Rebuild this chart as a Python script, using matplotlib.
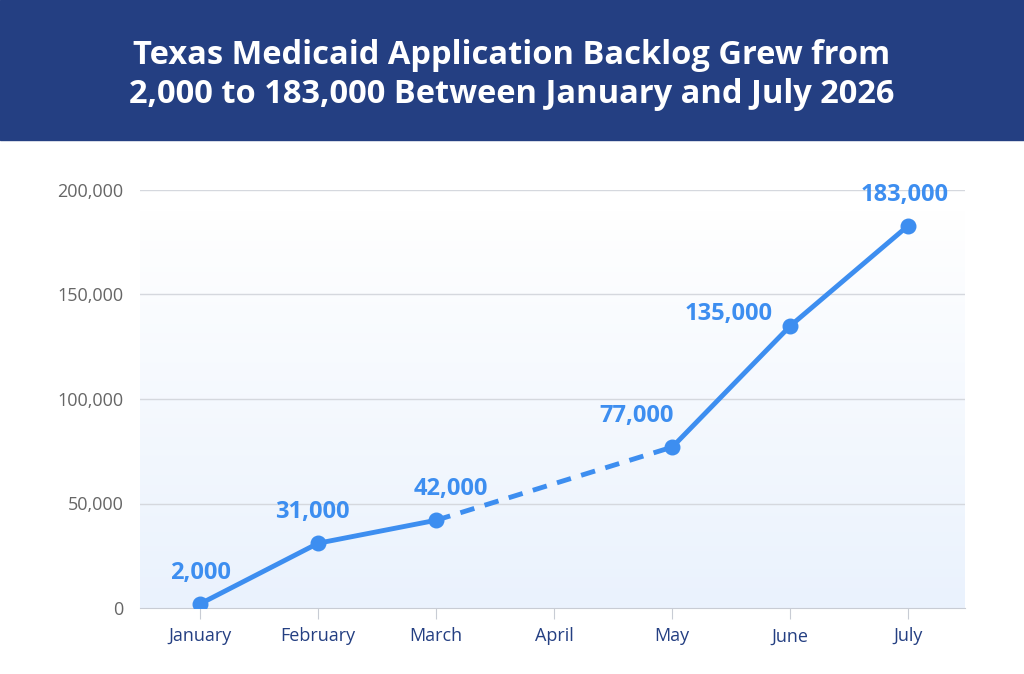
import matplotlib
matplotlib.use("Agg")
import matplotlib.pyplot as plt
import numpy as np

months = ["January", "February", "March", "April", "May", "June", "July"]
values = [2000, 31000, 42000, None, 77000, 135000, 183000]
labels = ["2,000", "31,000", "42,000", None, "77,000", "135,000", "183,000"]
yticks = [0, 50000, 100000, 150000, 200000]
ytick_labels = ["0", "50,000", "100,000", "150,000", "200,000"]

W, H = 1024, 674
fig = plt.figure(figsize=(W/100, H/100), dpi=100)
fig.patch.set_facecolor("white")
# title banner
fig.patches.append(plt.Rectangle((0, 1-140/H), 1, 140/H, transform=fig.transFigure,
                                 color="#243f82", zorder=0))
fig.text(0.5, 1-75/H, "Texas Medicaid Application Backlog Grew from\n2,000 to 183,000 Between January and July 2026",
         ha="center", va="center", color="white", fontsize=23.5, fontweight="bold",
         family="Open Sans", linespacing=1.25)

ax = fig.add_axes([140/W, 1-608/H, (965-140)/W, (608-190)/H])
ax.set_xlim(-0.51, 6.48)
ax.set_ylim(0, 200000)
# gradient background
grad = np.linspace(0, 1, 256).reshape(-1, 1)
from matplotlib.colors import LinearSegmentedColormap
cm = LinearSegmentedColormap.from_list("g", ["#eaf2fd", "#ffffff"])
ax.imshow(grad, aspect="auto", cmap=cm, origin="lower",
          extent=[-0.51, 6.48, 0, 190000], zorder=0)
for s in ax.spines.values():
    s.set_visible(False)
ax.spines["bottom"].set_visible(True)
ax.spines["bottom"].set_color("#c8ccd4")
ax.set_yticks(yticks)
ax.set_yticklabels(ytick_labels, color="#666666", fontsize=13, family="Open Sans")
ax.tick_params(axis="y", length=0, pad=12)
for y in yticks[1:]:
    ax.axhline(y, color="#d5d8de", lw=1, zorder=1)
x = np.arange(len(months))
ax.set_xticks(x)
ax.set_xticklabels(months, color="#243f82", fontsize=13, family="Open Sans")
ax.tick_params(axis="x", length=8, color="#c8ccd4", pad=6)

c = "#3d8ef0"
xs = [i for i, v in enumerate(values) if v is not None]
vs = [v for v in values if v is not None]
ax.plot(xs[:3], vs[:3], color=c, lw=3.5, zorder=3, solid_capstyle="round")
ax.plot(xs[2:4], vs[2:4], color=c, lw=3.5, ls=(0, (3, 2.2)), zorder=3)
ax.plot(xs[3:], vs[3:], color=c, lw=3.5, zorder=3, solid_capstyle="round")
ax.scatter(xs, vs, s=110, color=c, zorder=4)
offs = {0: (0, 9000), 1: (-0.05, 9000), 2: (0.12, 9000), 4: (-0.3, 9000),
        5: (-0.52, 0), 6: (-0.03, 9000)}
for i, v in enumerate(values):
    if v is None:
        continue
    dx, dy = offs[i]
    ax.text(i + dx, v + dy, labels[i], ha="center", va="bottom", color=c,
            fontsize=17, fontweight="bold", family="Open Sans", zorder=5)
fig.savefig("out.png", dpi=100)
